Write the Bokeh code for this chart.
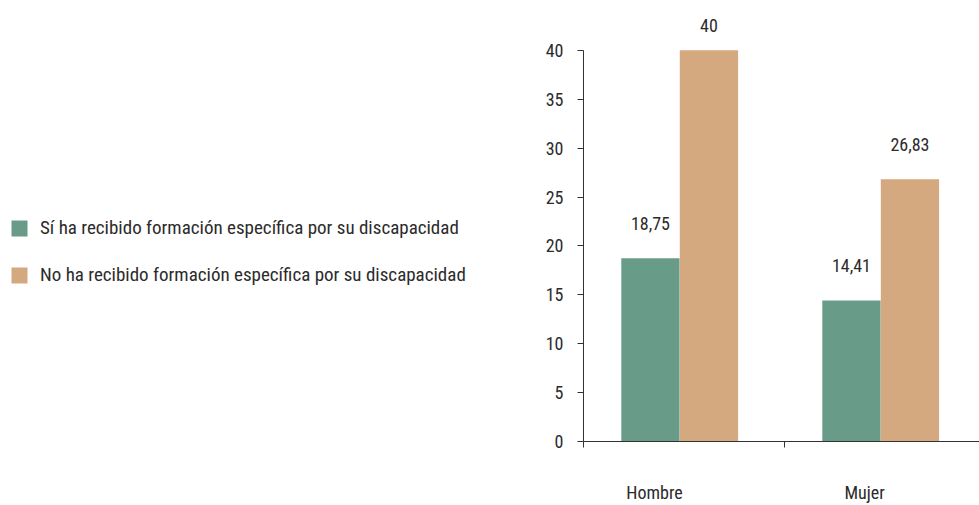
from bokeh.plotting import figure
from bokeh.layouts import row
from bokeh.models import (FixedTicker, LinearAxis, Range1d, Legend, LegendItem,
                          ColumnDataSource)
from bokeh.embed import file_html
from bokeh.resources import INLINE
from bokeh.core.properties import value

# Data
categories = ["Hombre", "Mujer"]
si_formacion = [18.75, 14.41]
no_formacion = [40, 26.83]
series_names = [
    "Sí ha recibido formación específica por su discapacidad",
    "No ha recibido formación específica por su discapacidad",
]
y_ticks = [0, 5, 10, 15, 20, 25, 30, 35, 40]

# Styling
FONT = ("'Noto Sans Condensed', 'Roboto Condensed', 'Liberation Sans Narrow', "
        "'Arial Narrow', 'DejaVu Sans Condensed', sans-serif")
TEXT = "#2b2b2b"
AXIS = "#333333"
GREEN = "#699b89"
TAN = "#d4a97f"
FS = "18px"

idx = list(range(len(categories)))
bar_w = 0.29
x_si = [i + 0.333 for i in idx]
x_no = [i + 0.624 for i in idx]
label_x = [i + 0.353 + 0.045 * i for i in idx]


def fmt(v):
    return f"{v:g}".replace(".", ",")


src_si = ColumnDataSource(dict(x=x_si, top=si_formacion,
                               ly=[min(v + 3.58, 42.5) for v in si_formacion],
                               txt=[fmt(v) for v in si_formacion]))
src_no = ColumnDataSource(dict(x=x_no, top=no_formacion,
                               ly=[min(v + 3.58, 42.5) for v in no_formacion],
                               txt=[fmt(v) for v in no_formacion]))

# ---- chart ----
p = figure(width=459, height=505, output_backend="svg", toolbar_location=None,
           x_range=Range1d(0, 1.97), y_range=Range1d(0, 45.1),
           x_axis_location=None, y_axis_location=None,
           min_border_left=63, min_border_right=0, min_border_top=0,
           min_border_bottom=64)
p.outline_line_color = None
p.grid.visible = False

p.vbar(x="x", top="top", bottom=0, width=bar_w, source=src_si,
       fill_color=GREEN, line_color=None)
p.vbar(x="x", top="top", bottom=0, width=bar_w, source=src_no,
       fill_color=TAN, line_color=None)

for src in (src_si, src_no):
    p.text(x="x", y="ly", text="txt", source=src, text_align="center",
           text_baseline="middle", text_font=value(FONT),
           text_font_size=FS, text_color=TEXT)

# Y axis limited to 0..40
yaxis = LinearAxis(ticker=FixedTicker(ticks=y_ticks), bounds=(0, 40))
yaxis.axis_line_color = AXIS
yaxis.major_tick_line_color = AXIS
yaxis.major_tick_out = 6
yaxis.major_tick_in = 0
yaxis.minor_tick_line_color = None
yaxis.major_label_standoff = 14
yaxis.major_label_text_font = FONT
yaxis.major_label_text_font_size = FS
yaxis.major_label_text_color = TEXT
p.add_layout(yaxis, "left")

# X axis with ticks at the category boundaries
xaxis = LinearAxis(ticker=FixedTicker(ticks=[0, 1, 2]),
                   major_label_overrides={0: "", 1: "", 2: ""})
xaxis.axis_line_color = AXIS
xaxis.major_tick_line_color = AXIS
xaxis.major_tick_out = 6
xaxis.major_tick_in = 0
xaxis.minor_tick_line_color = None
xaxis.major_label_text_font_size = "0px"
xaxis.major_label_standoff = 0
p.add_layout(xaxis, "below")

# Category names
cat_axis = LinearAxis(ticker=FixedTicker(ticks=label_x),
                      major_label_overrides={x: c for x, c in zip(label_x, categories)})
cat_axis.axis_line_color = None
cat_axis.major_tick_line_color = None
cat_axis.major_tick_out = 0
cat_axis.major_tick_in = 0
cat_axis.minor_tick_line_color = None
cat_axis.major_label_standoff = 34
cat_axis.major_label_text_font = FONT
cat_axis.major_label_text_font_size = FS
cat_axis.major_label_text_color = TEXT
p.add_layout(cat_axis, "below")

# ---- legend panel ----
lg = figure(width=520, height=505, output_backend="svg", toolbar_location=None,
            x_range=Range1d(0, 520), y_range=Range1d(0, 505),
            x_axis_location=None, y_axis_location=None,
            min_border=0)
lg.outline_line_color = None
lg.grid.visible = False
# hidden copies of the series, used only for the legend swatches
k_si = lg.vbar(x="x", top="top", width=bar_w, source=src_si,
               fill_color=GREEN, line_color=None, visible=False)
k_no = lg.vbar(x="x", top="top", width=bar_w, source=src_no,
               fill_color=TAN, line_color=None, visible=False)

legend = Legend(items=[LegendItem(label=series_names[0], renderers=[k_si]),
                       LegendItem(label=series_names[1], renderers=[k_no])],
                location=(9, 155))
legend.border_line_color = None
legend.background_fill_alpha = 0
legend.padding = 0
legend.margin = 0
legend.glyph_width = 20
legend.glyph_height = 20
legend.label_height = 20
legend.label_standoff = 11
legend.spacing = 24
legend.label_text_font = FONT
legend.label_text_font_size = "19px"
legend.label_text_color = TEXT
lg.add_layout(legend, "center")

open("out.html", "w").write(file_html(row(lg, p), INLINE))
